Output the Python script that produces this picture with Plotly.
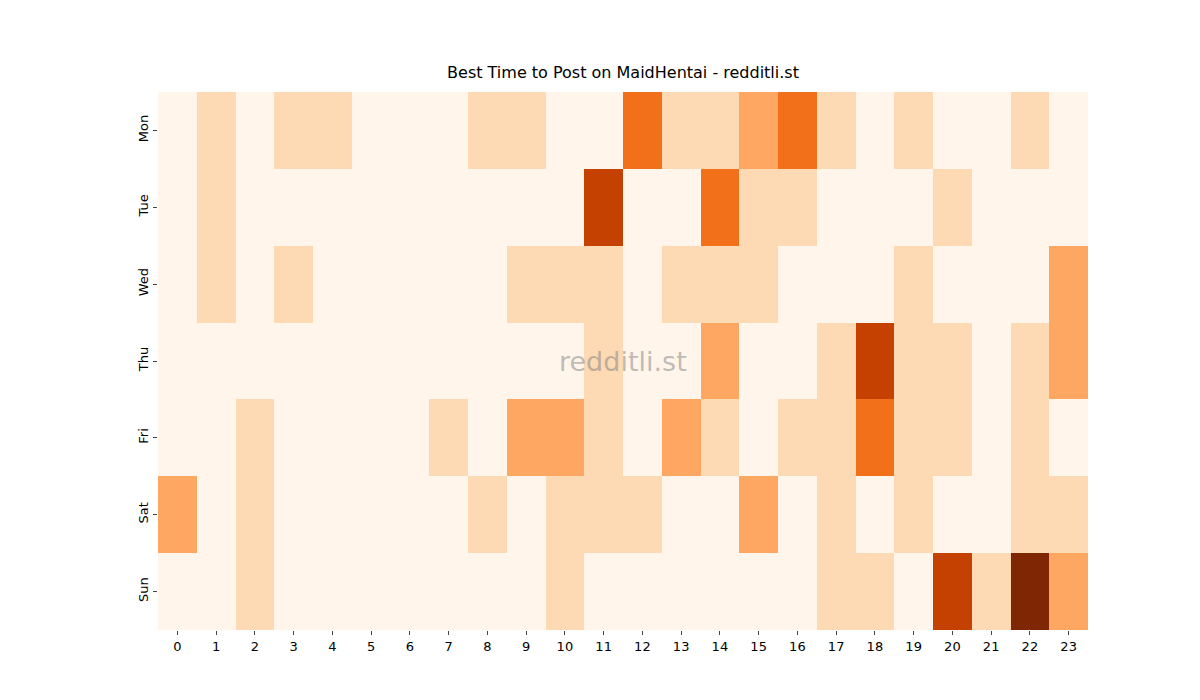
import plotly.graph_objects as go

days = ["Mon", "Tue", "Wed", "Thu", "Fri", "Sat", "Sun"]
hours = list(range(24))
mon = [0,1,0,1,1,0,0,0,1,1,0,0,3,1,1,2,3,1,0,1,0,0,1,0]
tue = [0,1,0,0,0,0,0,0,0,0,0,4,0,0,3,1,1,0,0,0,1,0,0,0]
wed = [0,1,0,1,0,0,0,0,0,1,1,1,0,1,1,1,0,0,0,1,0,0,0,2]
thu = [0,0,0,0,0,0,0,0,0,0,0,1,0,0,2,0,0,1,4,1,1,0,1,2]
fri = [0,0,1,0,0,0,0,1,0,2,2,1,0,2,1,0,1,1,3,1,1,0,1,0]
sat = [2,0,1,0,0,0,0,0,1,0,1,1,1,0,0,2,0,1,0,1,0,0,1,1]
sun = [0,0,1,0,0,0,0,0,0,0,1,0,0,0,0,0,0,1,1,0,4,1,5,2]
z = [mon, tue, wed, thu, fri, sat, sun]

scale = [[0, "#fff5eb"], [0.2, "#fdd9b4"], [0.4, "#fda762"],
         [0.6, "#f3701b"], [0.8, "#c54102"], [1, "#7f2704"]]

fig = go.Figure(go.Heatmap(z=z, x=hours, y=days, colorscale=scale, zmin=0, zmax=5,
                           showscale=False, xgap=0, ygap=0))
fig.update_layout(
    width=1200, height=700, paper_bgcolor="white", plot_bgcolor="white",
    margin=dict(l=150, r=120, t=84, b=78),
    font=dict(family="DejaVu Sans", size=13, color="black"),
    title=dict(text="Best Time to Post on MaidHentai - redditli.st", x=0.5125, xanchor="center",
               y=0.9, yanchor="bottom", font=dict(size=16)),
    xaxis=dict(tickmode="array", tickvals=hours, ticks="outside", ticklen=4, showgrid=False,
               zeroline=False),
    yaxis=dict(autorange="reversed", ticks="outside", ticklen=4, tickangle=-90, showgrid=False,
               zeroline=False),
    annotations=[dict(text="redditli.st", x=0.5, y=0.5, xref="paper", yref="paper",
                      showarrow=False, font=dict(size=27, color="rgba(128,128,128,0.5)"))],
)
fig.write_html("out.html")
